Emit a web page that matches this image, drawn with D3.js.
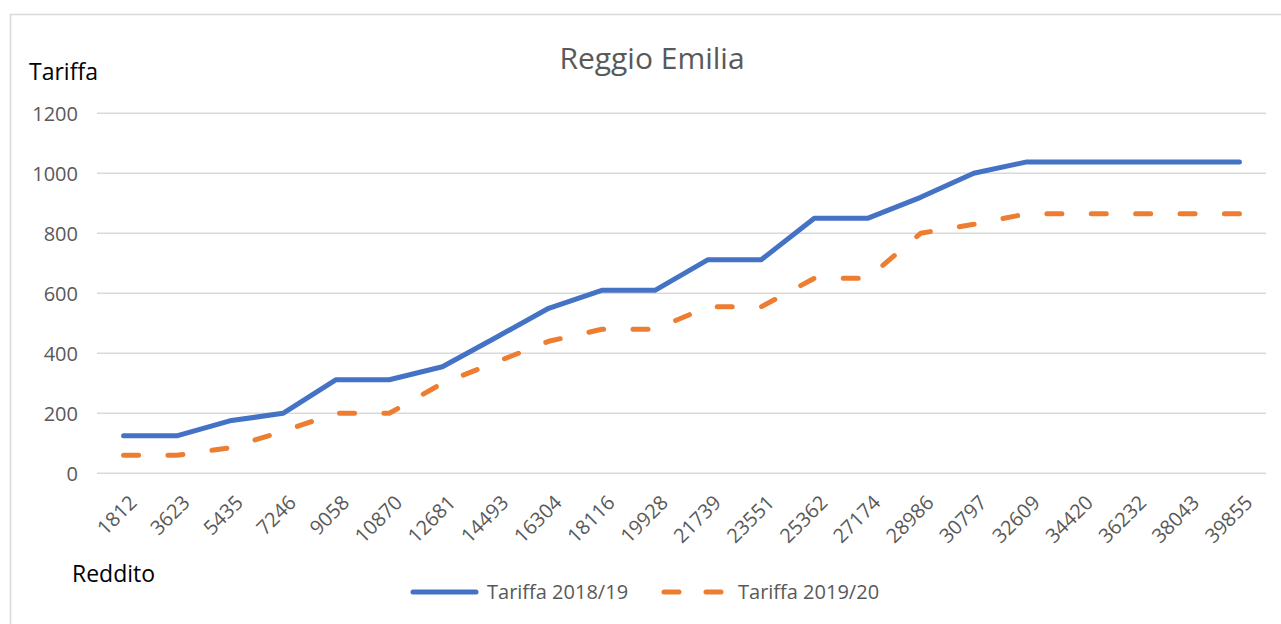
<!DOCTYPE html>
<html>
<head>
<meta charset="utf-8">
<script src="https://cdn.jsdelivr.net/npm/d3@7"></script>
<style>
  body { margin: 0; background: #fff; }
  text { font-family: "Open Sans", "Noto Sans", sans-serif; }
</style>
</head>
<body>
<div id="chart"></div>
<script>
// Reggio Emilia - tariffa per fascia di reddito

var redditi = ["1812", "3623", "5435", "7246", "9058", "10870", "12681", "14493",
               "16304", "18116", "19928", "21739", "23551", "25362", "27174", "28986",
               "30797", "32609", "34420", "36232", "38043", "39855"];

var tariffa1819 = [125, 125, 175, 200, 312, 312, 355, 452, 550, 610, 610,
                   712, 712, 850, 850, 920, 1000, 1038, 1038, 1038, 1038, 1038];

var tariffa1920 = [60, 60, 85, 140, 200, 200, 300, 370, 440, 480, 480,
                   555, 555, 650, 650, 800, 830, 865, 865, 865, 865, 865];

var yTicks = [0, 200, 400, 600, 800, 1000, 1200];

var serie = [
    { name: "Tariffa 2018/19", values: tariffa1819, color: "#4472c4", dashed: false },
    { name: "Tariffa 2019/20", values: tariffa1920, color: "#ed7d31", dashed: true }
];

var width = 1281, height = 624;
var dash_len = 15, dash_period = 45;

var svg = d3.select("#chart").append("svg")
            .attr("width", width)
            .attr("height", height);

// chart frame
svg.append("rect")
    .attr("x", 10.5).attr("y", 14.5)
    .attr("width", 1290).attr("height", 640)
    .attr("fill", "#fff")
    .attr("stroke", "#d9d9d9")
    .attr("stroke-width", 1.5);

var plot = { left: 97, right: 1266, top: 113.3, bottom: 473.3 };

var x = d3.scalePoint()
          .domain(redditi)
          .range([plot.left, plot.right])
          .padding(0.5);

var y = d3.scaleLinear()
          .domain([0, 1200])
          .range([plot.bottom, plot.top]);

// gridlines
svg.append("g").selectAll("line")
    .data(yTicks)
    .enter().append("line")
    .attr("x1", plot.left).attr("x2", plot.right)
    .attr("y1", function(d) { return y(d); })
    .attr("y2", function(d) { return y(d); })
    .attr("stroke", "#d9d9d9")
    .attr("stroke-width", 1.5);

// y axis labels
var yAxis = svg.append("g")
    .attr("transform", "translate(" + 78 + ",0)")
    .call(d3.axisLeft(y).tickValues(yTicks).tickFormat(d3.format("d")).tickSize(0).tickPadding(0));
yAxis.select(".domain").remove();
yAxis.selectAll("text")
    .attr("fill", "#595959")
    .style("font-size", "20px")
    .attr("dy", "0.35em");

// x axis labels, rotated
var xAxis = svg.append("g")
    .attr("transform", "translate(0," + 494 + ")")
    .call(d3.axisBottom(x).tickSize(0).tickPadding(0));
xAxis.select(".domain").remove();
xAxis.selectAll("text")
    .attr("fill", "#595959")
    .style("font-size", "20px")
    .style("text-anchor", "end")
    .attr("y", 0)
    .attr("dy", "0.7em")
    .attr("transform", "translate(4,0) rotate(-45)");

// lines
var line = d3.line()
    .x(function(d, i) { return x(redditi[i]); })
    .y(function(d) { return y(d); });

var paths = svg.append("g").selectAll("path")
    .data(serie)
    .enter().append("path")
    .attr("d", function(s) { return line(s.values); })
    .attr("fill", "none")
    .attr("stroke", function(s) { return s.color; })
    .attr("stroke-width", 5)
    .attr("stroke-linejoin", "round")
    .attr("stroke-linecap", "round");

// stretch the dash period a little so the dashed line starts and ends on a dash
paths.filter(function(s) { return s.dashed; })
    .attr("stroke-dasharray", function() {
        var len = this.getTotalLength();
        var n = Math.round((len - dash_len) / dash_period);
        var period = (len - dash_len) / n;
        return dash_len + "," + (period - dash_len);
    });

// titles
svg.append("text")
    .attr("x", 652).attr("y", 69)
    .attr("text-anchor", "middle")
    .attr("fill", "#595959")
    .style("font-size", "30px")
    .text("Reggio Emilia");

svg.append("text")
    .attr("x", 29).attr("y", 80)
    .attr("fill", "#000")
    .style("font-size", "23px")
    .text("Tariffa");

svg.append("text")
    .attr("x", 72).attr("y", 582)
    .attr("fill", "#000")
    .style("font-size", "23px")
    .text("Reddito");

// legend
var legendX = [411, 662];
var legend = svg.append("g").selectAll("g")
    .data(serie)
    .enter().append("g")
    .attr("transform", function(s, i) { return "translate(" + legendX[i] + "," + 592 + ")"; });

legend.append("line")
    .attr("x1", 2).attr("x2", 65)
    .attr("stroke", function(s) { return s.color; })
    .attr("stroke-width", 5)
    .attr("stroke-linecap", "round")
    .attr("stroke-dasharray", function(s) { return s.dashed ? "15,27" : null; });

legend.append("text")
    .attr("x", 76).attr("dy", "0.35em")
    .attr("fill", "#595959")
    .style("font-size", "20px")
    .text(function(s) { return s.name; });
</script>
</body>
</html>
